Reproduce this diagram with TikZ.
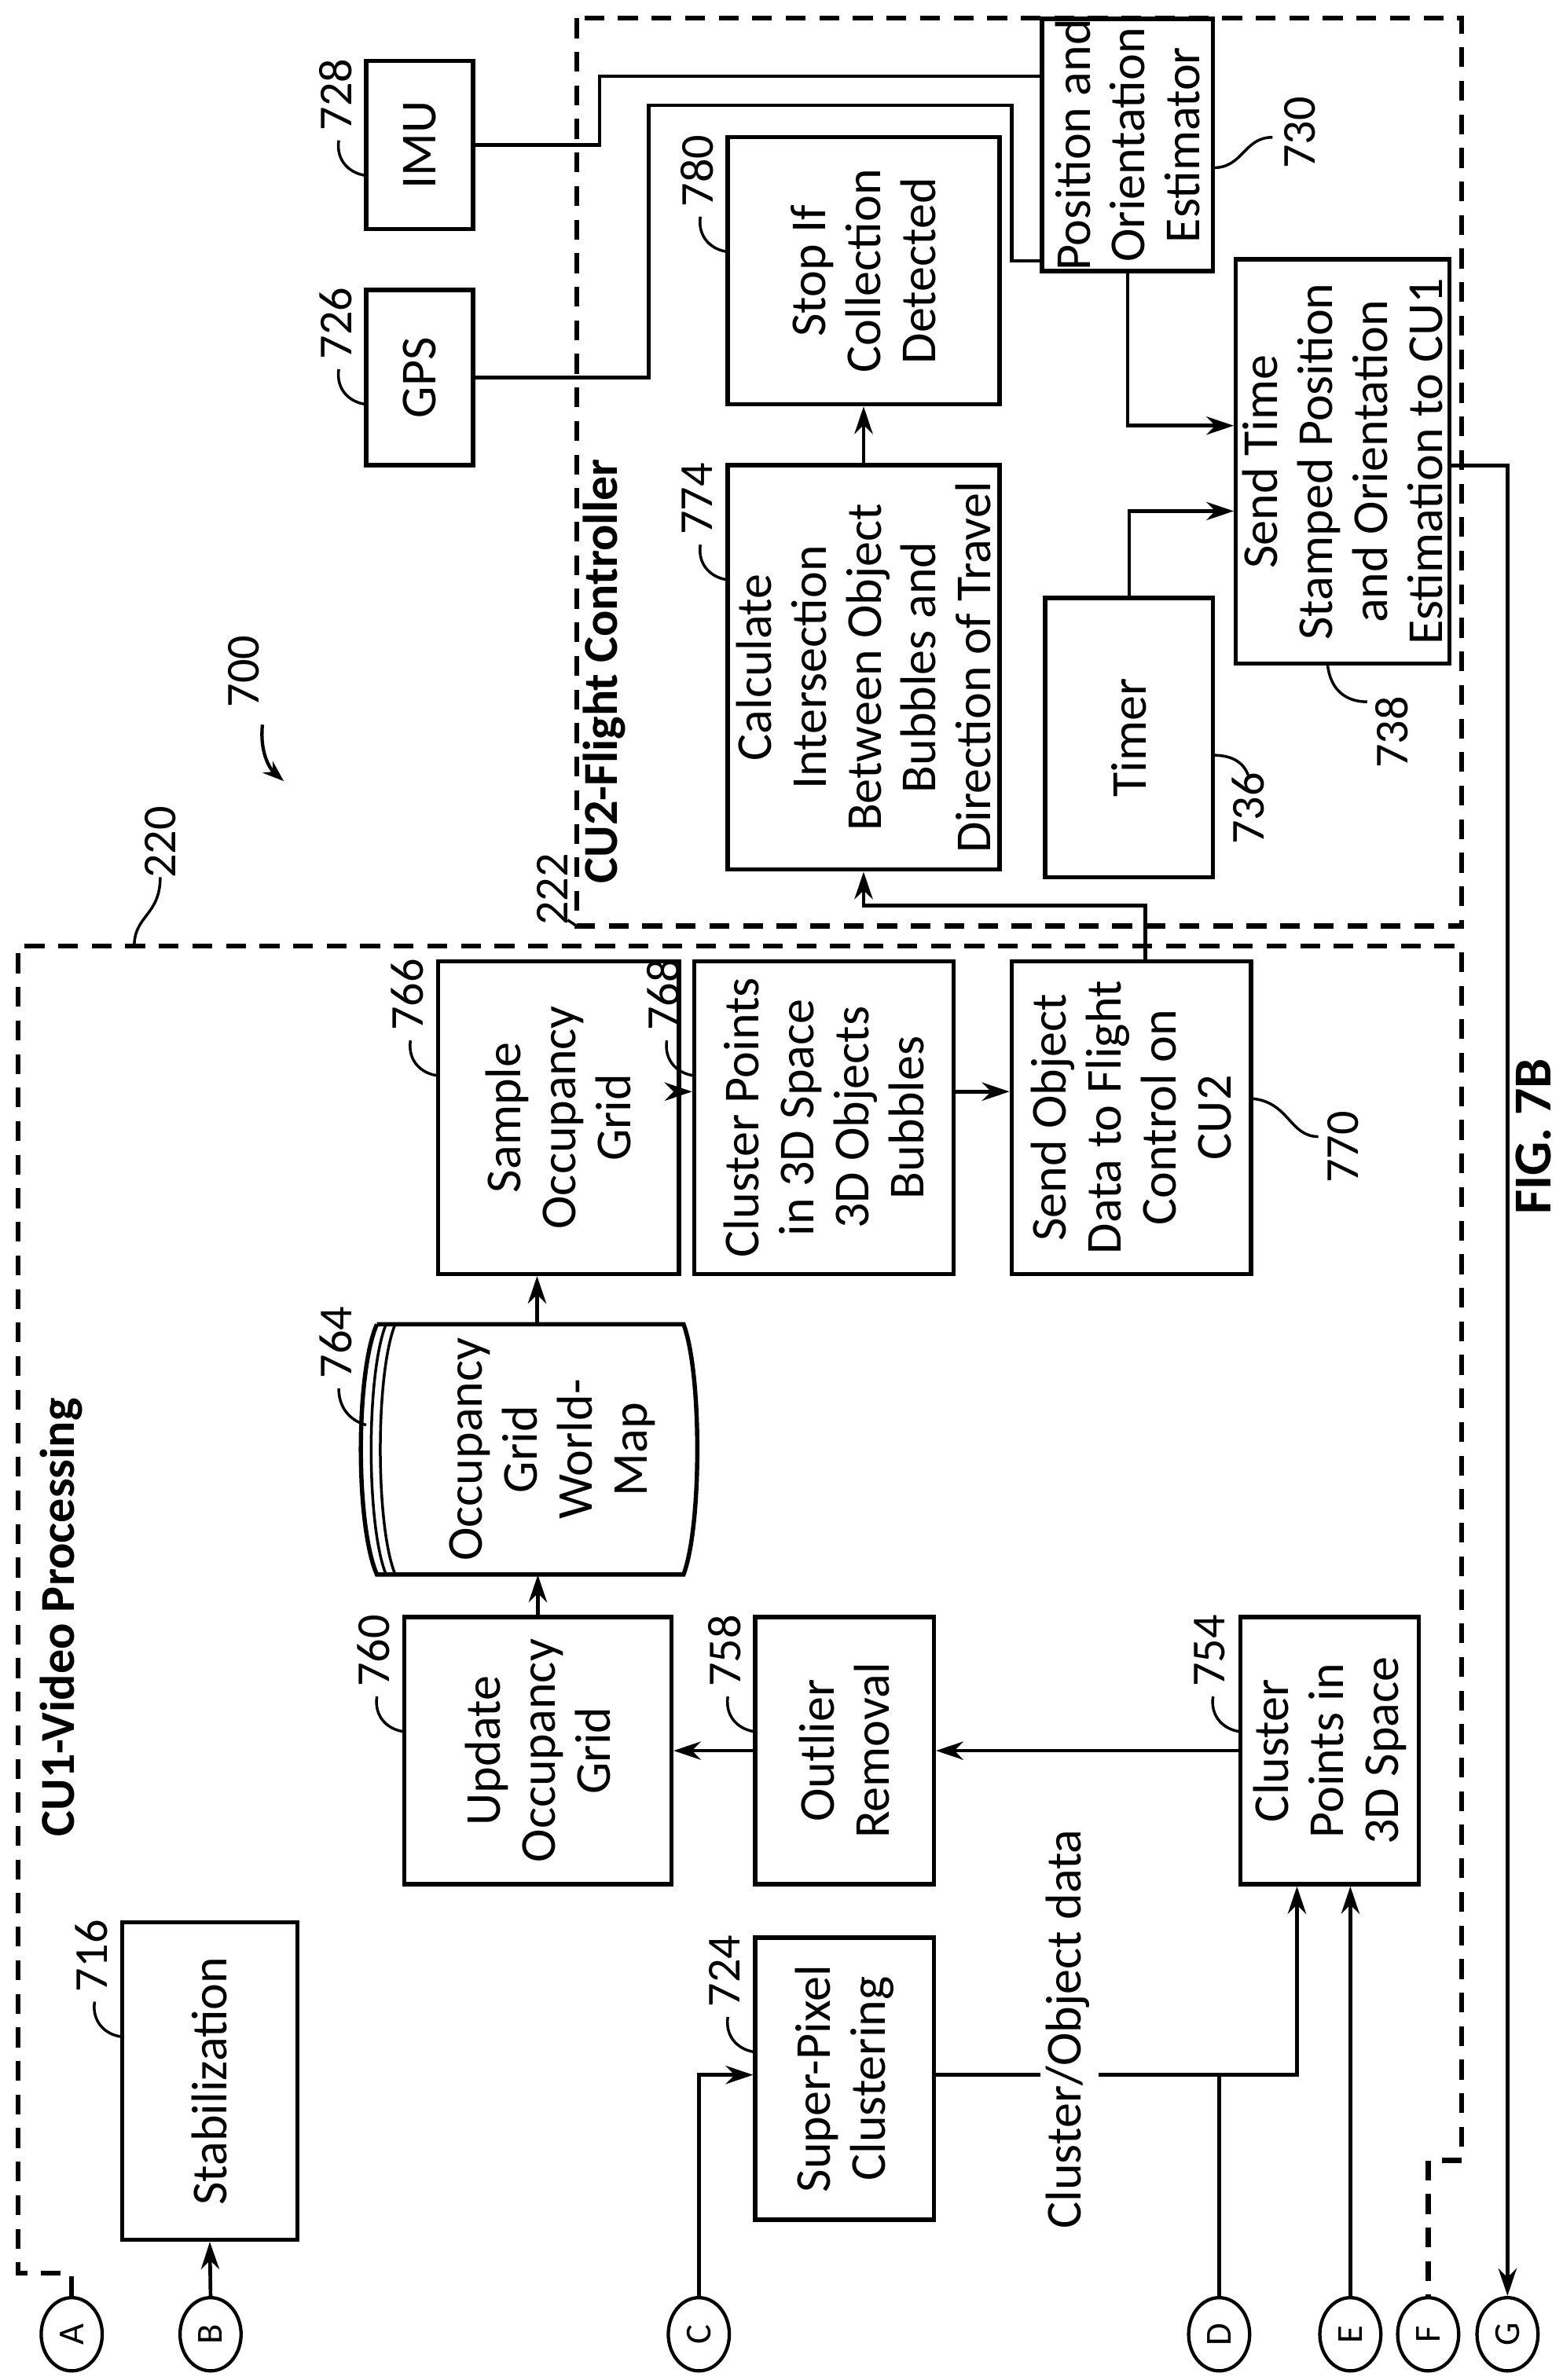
\documentclass[tikz,border=0pt]{standalone}
\usepackage{fontspec}
\setmainfont{Carlito}
\usetikzlibrary{arrows.meta,calc,shapes.geometric}
\begin{document}
\begin{tikzpicture}[x=1pt,y=-1pt,
  box/.style={draw,line width=2.8pt,rotate=90,align=center,inner sep=0pt,font=\fontsize{33}{36}\selectfont},
  num/.style={rotate=90,inner sep=0pt,font=\fontsize{31}{34}\selectfont},
  lead/.style={line width=1.8pt},
  con/.style={line width=2.4pt},
  arr/.style={con,-{Stealth[length=18pt,width=12pt]}},
  dsh/.style={line width=3.2pt,dash pattern=on 13pt off 9pt},
  circ/.style={draw,line width=2.2pt,ellipse,minimum width=40pt,minimum height=48pt,inner sep=0pt,font=\fontsize{24}{26}\selectfont}]
\useasboundingbox (0,0) rectangle (1024,1560);
\newcommand\bx[6]{\node[box,minimum width={(#5-#3)*1pt},minimum height={(#4-#2)*1pt}] (#1) at ({(#2+#4)/2},{(#3+#5)/2}) {#6};}
\newcommand\lbl[4]{\node[num] (l#1) at ({#2-20},{#3+24}) {#4};
  \draw[lead] ({#2-18},{#3+54}) .. controls ({#2-20},{#3+68}) and ({#2-10},{#3+76}) .. ({#2},{#3+77});}
% frames
\draw[dsh] (378,12) rectangle (958,607);
% circles
\node[circ] (A) at (47,1530) {\rotatebox{90}{A}};
\node[circ] (B) at (138,1530) {\rotatebox{90}{B}};
\node[circ] (C) at (458,1530) {\rotatebox{90}{C}};
\node[circ] (D) at (799,1530) {\rotatebox{90}{D}};
\node[circ] (E) at (885,1530) {\rotatebox{90}{E}};
\node[circ] (F) at (936,1530) {\rotatebox{90}{F}};
\node[circ] (G) at (988,1530) {\rotatebox{90}{G}};
\draw[dsh] (A.north) -- (47,1490) -- (12,1490) -- (12,620) -- (958,620) -- (958,1416) -- (936,1416) -- (F.north);
% boxes
\bx{stab}{80}{1260}{195}{1468}{Stabilization}
\bx{spc}{495}{1270}{612}{1455}{Super-Pixel\\Clustering}
\bx{upd}{265}{1060}{440}{1235}{Update\\Occupancy\\Grid}
\bx{out}{495}{1060}{612}{1235}{Outlier\\Removal}
\bx{cp}{813}{1060}{930}{1235}{Cluster\\Points in\\3D Space}
\bx{samp}{287}{630}{445}{835}{Sample\\Occupancy\\Grid}
\bx{cpb}{455}{630}{625}{835}{Cluster Points\\in 3D Space\\3D Objects\\Bubbles}
\bx{send}{663}{630}{820}{835}{Send Object\\Data to Flight\\Control on\\CU2}
\bx{calc}{477}{305}{655}{570}{Calculate\\Intersection\\Between Object\\Bubbles and\\Direction of Travel}
\bx{stop}{477}{90}{655}{265}{Stop If\\Collection\\Detected}
\bx{timer}{685}{392}{795}{575}{Timer}
\bx{sts}{810}{170}{950}{435}{Send Time\\Stamped Position\\and Orientation\\Estimation to CU1}
\bx{poe}{683}{18}{795}{172}{Position and\\Orientation\\Estimator}
\bx{gps}{240}{190}{310}{305}{GPS}
\bx{imu}{240}{40}{310}{150}{IMU}
% cylinder
\node[minimum width=164pt,minimum height=208pt,rotate=90,inner sep=0pt] (cyl) at (352,950) {};
\draw[line width=2.8pt] (247,868) -- (448,868) .. controls (460,900) and (460,1000) .. (448,1032) -- (247,1032) .. controls (233,1000) and (233,900) .. (247,868);
\draw[line width=1.8pt] (253,868) .. controls (240,900) and (240,1000) .. (253,1032);
\draw[line width=1.8pt] (259,868) .. controls (246,900) and (246,1000) .. (259,1032);
\node[align=center,rotate=90,font=\fontsize{33}{36}\selectfont] (cyltext) at (362,950) {Occupancy\\Grid\\World-\\Map};
% labels
\lbl{716}{80}{1258}{716}
\lbl{724}{495}{1268}{724}
\lbl{760}{265}{1058}{760}
\lbl{758}{495}{1058}{758}
\lbl{754}{813}{1058}{754}
\lbl{766}{287}{628}{766}
\lbl{768}{455}{628}{768}
\lbl{774}{477}{303}{774}
\lbl{780}{477}{88}{780}
\lbl{726}{240}{188}{726}
\lbl{728}{240}{38}{728}
\node[num] (l764) at (220,880) {764};
\draw[lead] (222,910) .. controls (222,925) and (232,932) .. (240,934);
\node[num] (l730) at (852,87) {730};
\draw[lead] (795,110) .. controls (815,110) and (815,90) .. (834,90);
\node[num] (l770) at (880,752) {770};
\draw[lead] (820,720) .. controls (845,722) and (845,745) .. (864,745);
\node[num] (l736) at (818,530) {736};
\draw[lead] (795,495) .. controls (808,495) and (815,500) .. (818,508);
\node[num] (l738) at (912,480) {738};
\draw[lead] (870,435) .. controls (872,455) and (885,460) .. (896,460);
\node[num] (l220) at (105,552) {220};
\draw[lead] (88,620) .. controls (88,600) and (105,600) .. (105,575);
\node[num] (l222) at (362,583) {222};
\draw[lead] (372,603) -- (378,607);
\node[num] (l700) at (160,440) {700};
\draw[line width=2.2pt,-{Stealth[length=14pt,width=10pt]}] (172,475) .. controls (170,495) and (178,505) .. (186,512);
% titles
\node[rotate=90,font=\bfseries\fontsize{32}{36}\selectfont] (t1) at (40,1060) {CU1-Video Processing};
\node[rotate=90,font=\bfseries\fontsize{32}{36}\selectfont] (t2) at (396,440) {CU2-Flight Controller};
\node[rotate=90,font=\bfseries\fontsize{35}{38}\selectfont] (fig) at (1005,745) {FIG. 7B};
\node[rotate=90,font=\fontsize{33}{36}\selectfont] (cod) at (700,1330) {Cluster/Object data};
% connectors
\draw[arr] (B.north) -- (stab.west);
\draw[arr] (C.north) |- (spc.north |- 0,1360);
\coordinate (j1) at (850,1360);
\draw[con] (spc.south |- 0,1360) -- (682,1360);
\draw[arr] (720,1360) -- (j1) -- (j1 |- cp.west);
\draw[con] (D.north) -- (D.north |- j1);
\draw[arr] (E.north) -- (E.north |- cp.west);
\draw[arr] (cp.north) -- (out.south);
\draw[arr] (out.north) -- (upd.south);
\draw[arr] (upd.east) -- (upd.east |- cyl.west);
\draw[arr] (cyl.east) -- (cyl.east |- samp.west);
\draw[arr] ([yshift=17pt]samp.south) -- ([yshift=17pt]cpb.north);
\draw[arr] ([yshift=17pt]cpb.south) -- ([yshift=17pt]send.north);
\draw[arr] ([xshift=9pt]send.east) -- ++(0,-35) -| (calc.west);
\draw[arr] (calc.east) -- (stop.west);
\draw[con] (gps.south) -| (425,69) -| (663,171) -- (poe.north |- 0,171);
\draw[con] (imu.south) -| (393,50) -- (poe.north |- 0,50);
\draw[arr] (poe.west) |- (sts.north |- 0,279);
\draw[arr] (timer.east) |- (sts.north |- 0,335);
\draw[arr] (sts.south |- 0,305) -| (G.north);
\end{tikzpicture}
\end{document}
